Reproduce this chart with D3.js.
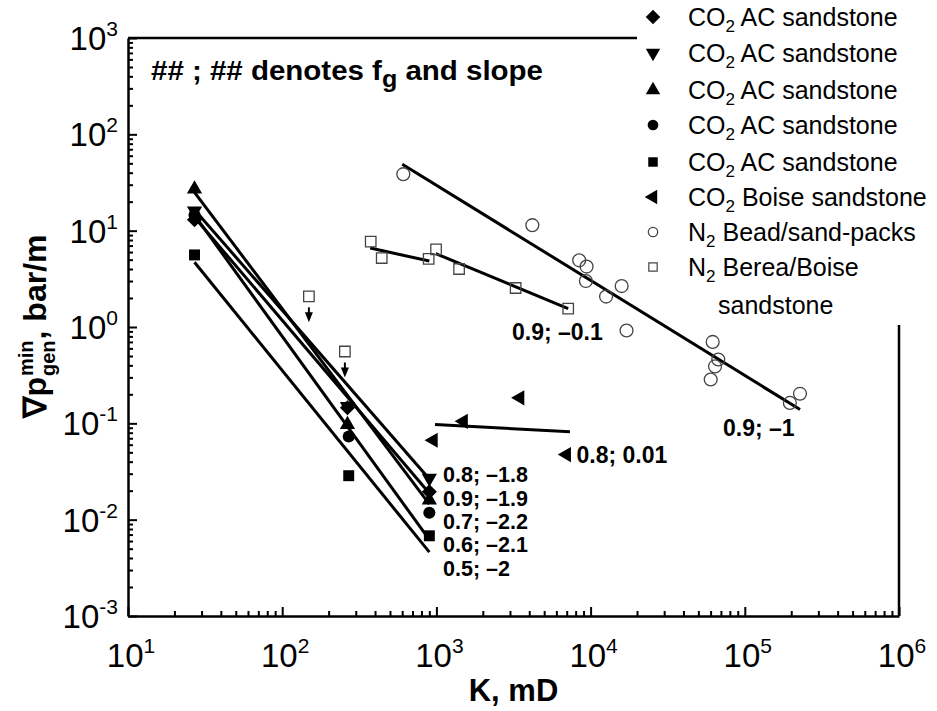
<!DOCTYPE html>
<html><head><meta charset="utf-8">
<script src="https://cdn.jsdelivr.net/npm/d3@7"></script>
<style>body{margin:0;background:#fff} text{font-family:"Liberation Sans",Arial,sans-serif;fill:#000}</style>
</head><body><svg id="c" width="937" height="711"></svg>
<script>
// ---- data (K in mD, gradient in bar/m) ----
const acK = [27, 265, 900];
const acDiamondV = [13, 0.145, 0.0195];
const acDownV = [16, 0.15, 0.027];
const acUpV = [27, 0.097, 0.016];
const acCircleK = [27, 270, 900];
const acCircleV = [14.5, 0.073, 0.0118];
const acSquareK = [27, 270, 900];
const acSquareV = [5.6, 0.0286, 0.0068];

const fitK = [27, 900];
const fitDownV = [16.5, 0.0265];
const fitDiamondV = [13.8, 0.0188];
const fitUpV = [25, 0.0145];
const fitCircleV = [14.5, 0.0062];
const fitSquareV = [4.7, 0.0046];

const boiseK = [955, 1497, 3480, 6980];
const boiseV = [0.0667, 0.105, 0.184, 0.0474];
const boiseFitK = [980, 7350];
const boiseFitV = [0.097, 0.0817];

const beadK = [610, 4190, 8435, 9420, 9320, 15900, 12600, 17100, 61900, 67300, 64100, 60100, 228000, 196000];
const beadV = [38.6, 11.4, 4.92, 4.24, 3.0, 2.66, 2.07, 0.92, 0.70, 0.46, 0.39, 0.285, 0.203, 0.163];
const beadFitK = [601, 228000];
const beadFitV = [49, 0.139];

const bereaK = [149, 255, 375, 442, 891, 995, 1403, 3265, 7155];
const bereaV = [2.08, 0.557, 7.7, 5.2, 5.1, 6.4, 4.0, 2.54, 1.55];
const bereaUpperBound = [true, true, false, false, false, false, false, false, false];
const bereaFit1K = [372, 900];
const bereaFit1V = [6.6, 4.84];
const bereaFit2K = [990, 7155];
const bereaFit2V = [5.78, 1.55];

const xTickExps = [1, 2, 3, 4, 5, 6];
const yTickExps = [-3, -2, -1, 0, 1, 2, 3];

const fitLabels = ["0.8; \u20131.8", "0.9; \u20131.9", "0.7; \u20132.2", "0.6; \u20132.1", "0.5; \u20132"];
const boiseLabel = "0.8; 0.01";
const bereaLabel = "0.9; \u20130.1";
const beadLabel = "0.9; \u20131";

const legendItems = [
  {sym: "diamond", gas: "CO", sub: "2", rest: " AC sandstone"},
  {sym: "down", gas: "CO", sub: "2", rest: " AC sandstone"},
  {sym: "up", gas: "CO", sub: "2", rest: " AC sandstone"},
  {sym: "circle", gas: "CO", sub: "2", rest: " AC sandstone"},
  {sym: "square", gas: "CO", sub: "2", rest: " AC sandstone"},
  {sym: "left", gas: "CO", sub: "2", rest: " Boise sandstone"},
  {sym: "ocircle", gas: "N", sub: "2", rest: " Bead/sand-packs"},
  {sym: "osquare", gas: "N", sub: "2", rest: " Berea/Boise"}
];

// ---- scales ----
const svg = d3.select("#c");
const x = d3.scaleLog().domain([10, 1e6]).range([128, 899]);
const y = d3.scaleLog().domain([1e-3, 1e3]).range([616, 38]);

function symPath(kind, s) {
  const map = {
    diamond: [d3.symbolSquare, 45, s * 0.95],
    down: [d3.symbolTriangle, 180, s],
    up: [d3.symbolTriangle, 0, s],
    left: [d3.symbolTriangle, -90, s],
    circle: [d3.symbolCircle, 0, s],
    square: [d3.symbolSquare, 0, s],
    ocircle: [d3.symbolCircle, 0, s],
    osquare: [d3.symbolSquare, 0, s]
  };
  const m = map[kind];
  return {d: d3.symbol().type(m[0]).size(m[2])(), rot: m[1]};
}
function drawMarkers(K, V, kind, size) {
  const p = symPath(kind, size);
  const open = kind === "ocircle" || kind === "osquare";
  svg.append("g").selectAll("path").data(K.map((k, i) => [k, V[i]])).join("path")
    .attr("d", p.d)
    .attr("transform", d => `translate(${x(d[0])},${y(d[1])}) rotate(${p.rot})`)
    .attr("fill", open ? "none" : "#000")
    .attr("stroke", open ? "#444" : "none")
    .attr("stroke-width", open ? 1.3 : 0);
}
const line = d3.line().x(d => x(d[0])).y(d => y(d[1]));
function drawFit(K, V) {
  svg.append("path").attr("d", line(K.map((k, i) => [k, V[i]])))
    .attr("fill", "none").attr("stroke", "#000").attr("stroke-width", 3);
}

// ---- frame ----
svg.append("line").attr("x1", x(10)).attr("x2", 637).attr("y1", y(1e3)).attr("y2", y(1e3)).attr("stroke", "#000").attr("stroke-width", 2.5);
svg.append("line").attr("x1", x(1e6)).attr("x2", x(1e6)).attr("y1", 325).attr("y2", y(1e-3)).attr("stroke", "#000").attr("stroke-width", 2.5);

// bottom axis
const gx = svg.append("g").attr("transform", `translate(0,${y(1e-3)})`)
  .call(d3.axisBottom(x).tickValues(x.ticks()).tickSize(0).tickFormat(""));
gx.select(".domain").attr("stroke-width", 2.5);
gx.selectAll(".tick line").remove();
gx.selectAll(".tick").append("line")
  .attr("y2", d => Math.abs(Math.log10(d) - Math.round(Math.log10(d))) < 1e-9 ? -9 : -5)
  .attr("stroke", "#000").attr("stroke-width", 2);
xTickExps.forEach(e => {
  const t = svg.append("text").attr("x", x(Math.pow(10, e)) + 3).attr("y", 667)
    .attr("text-anchor", "middle").attr("font-size", 33);
  t.append("tspan").text("10");
  t.append("tspan").attr("dy", -14).attr("font-size", 21).text(e);
});

// left axis
const gy = svg.append("g").attr("transform", `translate(${x(10)},0)`)
  .call(d3.axisLeft(y).tickValues(y.ticks()).tickSize(0).tickFormat(""));
gy.select(".domain").attr("stroke-width", 2.5);
gy.selectAll(".tick line").remove();
gy.selectAll(".tick").append("line")
  .attr("x2", d => Math.abs(Math.log10(d) - Math.round(Math.log10(d))) < 1e-9 ? 9 : 5)
  .attr("stroke", "#000").attr("stroke-width", 2);
yTickExps.forEach(e => {
  const t = svg.append("text").attr("x", 118).attr("y", y(Math.pow(10, e)) + 12)
    .attr("text-anchor", "end").attr("font-size", 33);
  t.append("tspan").text("10");
  t.append("tspan").attr("dy", -14).attr("font-size", 21).text(e < 0 ? "-" + (-e) : e);
});

// axis titles
svg.append("text").attr("x", (x(10) + x(1e6)) / 2).attr("y", 701).attr("text-anchor", "middle")
  .attr("font-size", 31).attr("font-weight", "bold").text("K, mD");
{
  const g = svg.append("g").attr("transform", "translate(46,326) rotate(-90)");
  const a = g.append("text").attr("font-size", 32).attr("font-weight", "bold").text("\u2207p");
  const wa = a.node().getComputedTextLength();
  const sp = g.append("text").attr("x", wa + 1).attr("y", -13).attr("font-size", 20).attr("font-weight", "bold").text("min");
  const sb = g.append("text").attr("x", wa + 1).attr("y", 9).attr("font-size", 20).attr("font-weight", "bold").text("gen");
  const wm = Math.max(sp.node().getComputedTextLength(), sb.node().getComputedTextLength());
  const c = g.append("text").attr("x", wa + wm + 2).attr("font-size", 32).attr("font-weight", "bold").text(", bar/m");
  const total = wa + wm + 2 + c.node().getComputedTextLength();
  g.selectAll("text").each(function() { const s = d3.select(this); s.attr("x", +s.attr("x") - total / 2); });
}

// annotation
{
  const t = svg.append("text").attr("x", 151).attr("y", 80).attr("font-size", 27).attr("font-weight", "bold")
    .attr("textLength", 392).attr("lengthAdjust", "spacingAndGlyphs");
  t.append("tspan").text("## ; ## denotes f");
  t.append("tspan").attr("dy", 7).attr("font-size", 23).text("g");
  t.append("tspan").attr("dy", -7).text(" and slope");
}

// fits
drawFit(fitK, fitDownV); drawFit(fitK, fitDiamondV); drawFit(fitK, fitUpV);
drawFit(fitK, fitCircleV); drawFit(fitK, fitSquareV);
drawFit(boiseFitK, boiseFitV);
drawFit(beadFitK, beadFitV);
drawFit(bereaFit1K, bereaFit1V); drawFit(bereaFit2K, bereaFit2V);

// markers
drawMarkers(acK, acDiamondV, "diamond", 120);
drawMarkers(acK, acDownV, "down", 100);
drawMarkers(acK, acUpV, "up", 100);
drawMarkers(acCircleK, acCircleV, "circle", 115);
drawMarkers(acSquareK, acSquareV, "square", 120);
drawMarkers(boiseK, boiseV, "left", 100);
drawMarkers(beadK, beadV, "ocircle", 130);
drawMarkers(bereaK, bereaV, "osquare", 110);

// upper-bound arrows below open squares
bereaK.forEach((k, i) => {
  if (!bereaUpperBound[i]) return;
  const cx = x(k), cy = y(bereaV[i]);
  svg.append("line").attr("x1", cx).attr("x2", cx).attr("y1", cy + 11).attr("y2", cy + 20).attr("stroke", "#000").attr("stroke-width", 2);
  svg.append("path").attr("d", `M${cx - 4},${cy + 16}L${cx + 4},${cy + 16}L${cx},${cy + 26}Z`).attr("fill", "#000");
});

// fit labels
fitLabels.forEach((s, i) => {
  svg.append("text").attr("x", 443).attr("y", [482, 506, 529, 552, 576][i])
    .attr("font-size", 21.5).attr("font-weight", "bold").text(s);
});
svg.append("text").attr("x", x(boiseK[3]) + 10).attr("y", y(boiseV[3]) + 8).attr("font-size", 23).attr("font-weight", "bold").text(boiseLabel);
svg.append("text").attr("x", 512).attr("y", 340).attr("font-size", 23).attr("font-weight", "bold").text(bereaLabel);
svg.append("text").attr("x", 723).attr("y", 436).attr("font-size", 23).attr("font-weight", "bold").text(beadLabel);

// legend
const rowsY = [17, 53, 90, 125, 162, 197, 232, 267];
legendItems.forEach((it, i) => {
  const open = it.sym === "ocircle" || it.sym === "osquare";
  const p = symPath(it.sym, open ? 70 : (it.sym === "diamond" ? 110 : 90));
  svg.append("path").attr("d", p.d)
    .attr("transform", `translate(653,${rowsY[i]}) rotate(${p.rot})`)
    .attr("fill", open ? "none" : "#000").attr("stroke", open ? "#444" : "none").attr("stroke-width", 1.2);
  const t = svg.append("text").attr("x", 688).attr("y", rowsY[i] + 9).attr("font-size", 25);
  t.append("tspan").text(it.gas);
  t.append("tspan").attr("dy", 6).attr("font-size", 17).text(it.sub);
  t.append("tspan").attr("dy", -6).text(it.rest);
});
svg.append("text").attr("x", 718).attr("y", 314).attr("font-size", 25).text("sandstone");
</script></body></html>
